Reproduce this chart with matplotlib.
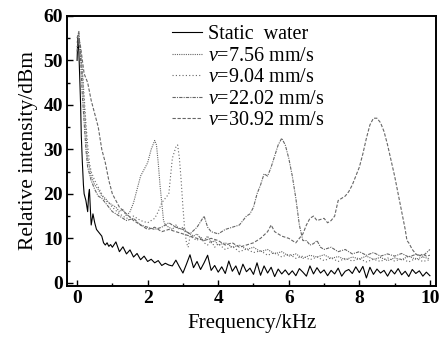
import matplotlib.pyplot as plt
from matplotlib.ticker import MultipleLocator

# static water
x_static = [0.0, 0.02, 0.05, 0.08, 0.1, 0.12, 0.15, 0.18, 0.2, 0.25, 0.3, 0.33, 0.35, 0.38, 0.4,
            0.45, 0.5, 0.55, 0.6, 0.65, 0.7, 0.75, 0.8, 0.85, 0.9, 0.95, 1.0,
            1.1, 1.2, 1.3, 1.4, 1.5, 1.6, 1.7, 1.8, 1.9, 2.0,
            2.1, 2.2, 2.3, 2.4, 2.5, 2.6, 2.7, 2.8, 2.9, 3.0,
            3.1, 3.2, 3.3, 3.4, 3.5, 3.6, 3.7, 3.8, 3.9, 4.0,
            4.1, 4.2, 4.3, 4.4, 4.5, 4.6, 4.7, 4.8, 4.9, 5.0,
            5.1, 5.2, 5.3, 5.4, 5.5, 5.6, 5.7, 5.8, 5.9, 6.0,
            6.1, 6.2, 6.3, 6.4, 6.5, 6.6, 6.7, 6.8, 6.9, 7.0,
            7.1, 7.2, 7.3, 7.4, 7.5, 7.6, 7.7, 7.8, 7.9, 8.0,
            8.1, 8.2, 8.3, 8.4, 8.5, 8.6, 8.7, 8.8, 8.9, 9.0,
            9.1, 9.2, 9.3, 9.4, 9.5, 9.6, 9.7, 9.8, 9.9, 10.0]
y_static = [50, 55, 52, 45, 40, 33, 27, 22, 20, 18.5, 16, 20, 21, 16, 13,
            15.5, 13.5, 12, 11.5, 11, 10.5, 9, 8.5, 9, 8.2, 8.6, 8,
            9.2, 7.0, 8.1, 6.5, 7.4, 5.8, 6.6, 5.2, 6.0, 4.8,
            5.3, 4.5, 5.0, 3.9, 4.4, 4.0, 3.8, 5.1, 3.6, 2.2,
            4.2, 6.3, 3.4, 4.8, 3.0, 4.5, 6.2, 2.8, 3.9, 2.4,
            3.6, 2.1, 4.9, 2.6, 3.8, 1.8, 4.2, 2.5, 3.3, 1.9,
            4.5, 1.7, 3.8, 2.2, 3.5, 1.4, 3.1, 2.0, 2.9, 1.8,
            2.7, 1.6, 3.2, 2.4, 1.5, 3.8, 2.0, 3.4, 2.2, 2.9,
            1.6, 2.8, 2.0, 3.3, 1.5, 2.6, 3.0, 2.1, 3.6, 2.3,
            3.7, 1.1, 3.5, 1.9, 3.1, 2.2, 2.8, 1.5, 2.9, 2.0,
            3.2, 1.8, 2.6, 1.4, 3.0, 2.1, 2.7, 1.5, 2.4, 1.6]

# v = 7.56 mm/s
x_v1 = [0.0, 0.05, 0.1, 0.15, 0.2, 0.25, 0.3, 0.35, 0.4, 0.5, 0.6, 0.7, 0.8, 0.9, 1.0,
        1.1, 1.2, 1.3, 1.4, 1.5, 1.6, 1.7, 1.8, 1.9, 2.0, 2.1, 2.2, 2.25, 2.3, 2.35,
        2.4, 2.45, 2.5, 2.6, 2.7, 2.8, 2.9, 3.0, 3.1, 3.2, 3.3, 3.4, 3.5, 3.6, 3.7,
        3.8, 3.9, 4.0, 4.2, 4.4, 4.6, 4.8, 5.0, 5.2, 5.4, 5.6, 5.8, 6.0, 6.2, 6.4,
        6.6, 6.8, 7.0, 7.2, 7.4, 7.6, 7.8, 8.0, 8.2, 8.4, 8.6, 8.8, 9.0, 9.2, 9.4,
        9.6, 9.8, 10.0]
y_v1 = [54, 56, 52, 47, 40, 34, 28, 26, 24, 22, 21, 19.5, 19, 18, 17.5,
        17, 16, 16.5, 15, 16, 18, 21, 24, 25.5, 27, 30, 32, 31, 27, 22,
        18, 14, 13, 12.5, 12, 13, 12, 12.5, 11.5, 11, 10.5, 11, 10, 9.5, 10.5,
        9, 9.5, 8.5, 9, 8, 8.5, 7.5, 8, 7, 7.5, 6.5, 7, 6, 6.5, 5.5,
        6.2, 5.8, 6.3, 5.5, 5.9, 5.2, 5.8, 5.4, 6, 5.3, 5.7, 5.0, 5.6, 5.2, 6,
        5.3, 5.8, 5.4]

# v = 9.04 mm/s
x_v2 = [0.0, 0.05, 0.1, 0.15, 0.2, 0.25, 0.3, 0.35, 0.4, 0.5, 0.6, 0.7, 0.8, 0.9, 1.0,
        1.2, 1.4, 1.6, 1.8, 2.0, 2.2, 2.3, 2.4, 2.5, 2.6, 2.65, 2.7, 2.8, 2.85, 2.9,
        2.95, 3.0, 3.05, 3.1, 3.15, 3.2, 3.3, 3.4, 3.5, 3.6, 3.7, 3.8, 3.9, 4.0, 4.2,
        4.4, 4.6, 4.8, 5.0, 5.2, 5.4, 5.6, 5.8, 6.0, 6.2, 6.4, 6.6, 6.8, 7.0, 7.2,
        7.4, 7.6, 7.8, 8.0, 8.2, 8.4, 8.6, 8.8, 9.0, 9.2, 9.4, 9.6, 9.8, 10.0]
y_v2 = [53, 55, 51, 48, 42, 36, 31, 27, 25, 23, 21.5, 20, 18.5, 18, 17,
        15.5, 14.5, 15, 14, 13.5, 14.5, 16, 18, 19, 20, 24, 28, 30.5, 31, 28,
        23, 17, 12, 9, 8, 10.5, 10, 9.5, 10.5, 9, 8.5, 9.5, 8, 8.8, 7.5,
        8.2, 7, 7.6, 6.8, 7.2, 6.2, 6.8, 5.8, 6.5, 5.5, 6, 5.2, 5.8, 5.0, 5.6,
        4.8, 5.5, 4.9, 5.4, 4.7, 5.3, 4.8, 5.6, 4.9, 5.4, 4.7, 5.5, 4.8, 5.2]

# v = 22.02 mm/s
x_v3 = [0.0, 0.05, 0.1, 0.15, 0.2, 0.25, 0.3, 0.35, 0.4, 0.5, 0.6, 0.7, 0.8, 0.9, 1.0,
        1.2, 1.4, 1.6, 1.8, 2.0, 2.2, 2.4, 2.6, 2.8, 3.0, 3.2, 3.4, 3.6, 3.7, 3.8,
        4.0, 4.2, 4.4, 4.6, 4.8, 4.9, 5.0, 5.1, 5.2, 5.3, 5.4, 5.5, 5.6, 5.7, 5.8,
        5.9, 6.0, 6.1, 6.2, 6.3, 6.4, 6.5, 6.6, 6.7, 6.8, 6.9, 7.0, 7.2, 7.4, 7.6,
        7.8, 8.0, 8.2, 8.4, 8.6, 8.8, 9.0, 9.2, 9.4, 9.6, 9.8, 10.0]
y_v3 = [55, 56.5, 50, 42, 36, 30, 26, 24.5, 23, 21, 19.5, 19, 18, 17, 16,
        15, 14, 14.5, 13, 12.5, 12, 12.5, 13.5, 12.5, 12, 11, 12.5, 15, 12.5, 11.5,
        11, 12, 12.5, 13, 15, 15.5, 17, 20, 22, 24.5, 24, 26, 28.5, 31, 32.5,
        31, 28, 24, 19, 13, 9.5, 9.5, 8.5, 8.8, 9.5, 8, 7.5, 8, 7, 7.5,
        6.5, 7, 6.2, 6.8, 6, 6.5, 6, 6.6, 5.8, 6.4, 6, 7.5]

# v = 30.92 mm/s
x_v4 = [0.0, 0.05, 0.1, 0.15, 0.2, 0.3, 0.4, 0.5, 0.6, 0.7, 0.8, 0.9, 1.0, 1.1, 1.2,
        1.4, 1.6, 1.8, 2.0, 2.2, 2.4, 2.6, 2.8, 3.0, 3.2, 3.4, 3.6, 3.8, 4.0, 4.2,
        4.4, 4.6, 4.8, 5.0, 5.2, 5.4, 5.5, 5.6, 5.8, 6.0, 6.2, 6.3, 6.4, 6.5, 6.6,
        6.7, 6.8, 7.0, 7.1, 7.2, 7.3, 7.4, 7.5, 7.6, 7.7, 7.8, 7.9, 8.0, 8.1, 8.2,
        8.3, 8.4, 8.5, 8.6, 8.7, 8.8, 8.9, 9.0, 9.1, 9.2, 9.3, 9.35, 9.4, 9.5, 9.6,
        9.7, 9.8, 9.9, 10.0]
y_v4 = [52, 55, 53, 50, 47, 45, 41, 38, 35, 30, 27, 23, 20, 18.5, 17,
        15.5, 14, 13, 12, 12.5, 11.5, 12, 11.5, 11, 10.5, 10, 9.5, 10, 9.5, 8.5,
        9, 8, 8.5, 9, 10, 11.5, 13, 11.5, 10.5, 10, 9, 10, 11, 13, 14.5,
        15, 14, 14.5, 13.5, 14, 15, 18.5, 19, 19.5, 20.5, 22, 24, 26, 29, 32.5,
        35.5, 37, 37, 36, 34, 31, 27.5, 24, 20, 16, 12, 9.5, 9, 7.5, 6.5,
        6, 6.5, 6, 6.2]

labels = ["Static  water", "$v$=7.56 mm/s", "$v$=9.04 mm/s", "$v$=22.02 mm/s", "$v$=30.92 mm/s"]

plt.rcParams['font.family'] = ['Liberation Serif', 'DejaVu Serif']
plt.rcParams['mathtext.fontset'] = 'custom'
plt.rcParams['mathtext.it'] = 'Liberation Serif:italic'

fig = plt.figure(figsize=(4.48, 3.38), dpi=100)
ax = fig.add_axes([0.15, 0.154, 0.823, 0.799])

gray = '#666666'
ax.plot(x_static, y_static, color='black', lw=0.8, label=labels[0])
ax.plot(x_v1, y_v1, color=gray, lw=0.8, ls=(0, (1, 1)), label=labels[1])
ax.plot(x_v2, y_v2, color=gray, lw=0.8, ls=(0, (1, 2)), label=labels[2])
ax.plot(x_v3, y_v3, color=gray, lw=0.8, ls=(0, (3, 1, 1, 1)), label=labels[3])
ax.plot(x_v4, y_v4, color=gray, lw=0.8, ls=(0, (3, 1.5)), label=labels[4])

ax.set_xlim(-0.28, 10.17)
ax.set_ylim(-0.7, 60)
ax.xaxis.set_major_locator(MultipleLocator(2))
ax.xaxis.set_minor_locator(MultipleLocator(1))
ax.yaxis.set_major_locator(MultipleLocator(10))
ax.yaxis.set_minor_locator(MultipleLocator(5))
ax.tick_params(which='both', direction='in', top=False, right=False, width=1.0)
ax.tick_params(which='major', length=4, labelsize=14, pad=3)
ax.tick_params(which='minor', length=2.5)
for lab in ax.get_xticklabels() + ax.get_yticklabels():
    lab.set_fontweight('bold')
for sp in ax.spines.values():
    sp.set_linewidth(1.4)

ax.set_xlabel('Frequency/kHz', fontsize=15, labelpad=5)
ax.set_ylabel('Relative intensity/dBm', fontsize=15.5, labelpad=4)

ax.legend(loc='upper left', bbox_to_anchor=(0.262, 0.995), frameon=False, fontsize=14.5,
          handlelength=1.5, handletextpad=0.3, labelspacing=0.12, borderaxespad=0.0)

fig.savefig('out.png', dpi=100)
